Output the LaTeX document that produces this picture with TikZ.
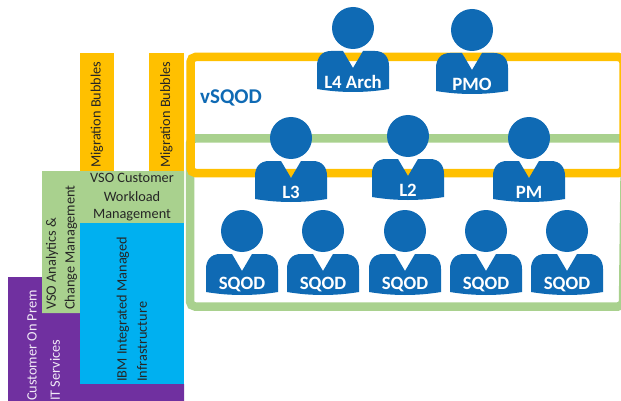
\documentclass[tikz,border=0pt]{standalone}
\usepackage{fontspec}
\setmainfont{Carlito}
\definecolor{teamblue}{HTML}{0F6AB4}
\definecolor{bubbleorange}{HTML}{FFC000}
\definecolor{vsogreen}{HTML}{A9D18E}
\definecolor{ibmblue}{HTML}{00B0F0}
\definecolor{onpremviolet}{HTML}{7030A0}
\tikzset{
  frameline/.style={line width=8.5pt,rounded corners=5pt},
  blocktext/.style={font=\fontsize{14.3}{14.3}\selectfont,text=black!85,inner sep=0pt},
  memberlabel/.style={font=\fontsize{18.8}{18.8}\selectfont\bfseries,text=white,inner sep=0pt}
}
% one team member: name, head centre x, head centre y, label
\newcommand{\teammember}[4]{
  \begin{scope}[shift={(#2,#3)}]
    \fill[teamblue] (0,0) circle (21);
    \fill[teamblue] (-10,23) -- (0,40) -- (10,23) -- (22,23) .. controls (31,23) and (36,29) .. (36,38)
      -- (36,61) .. controls (12,65) and (-12,65) .. (-36,61) -- (-36,38) .. controls (-36,29) and (-31,23) .. (-22,23) -- cycle;
    \node[memberlabel] (#1) at (0,54) {#4};
  \end{scope}
}
\begin{document}
\begin{tikzpicture}[x=1pt,y=-1pt]
  \useasboundingbox (0,0) rectangle (621,401);
  \clip (0,0) rectangle (621,401);
  \fill[white] (0,0) rectangle (621,401);
  % left hand stack
  \fill[onpremviolet] (8,277) -- (42,277) -- (42,313) -- (80,313) -- (80,384) -- (184,384) -- (184,401) -- (8,401) -- cycle;
  \fill[vsogreen] (42,171) -- (184,171) -- (184,223) -- (80,223) -- (80,313) -- (42,313) -- cycle;
  \fill[ibmblue] (80,223) rectangle (184,384);
  \fill[bubbleorange] (80,53) rectangle (114,171);
  \fill[bubbleorange] (149,53) rectangle (184,171);
  \node[blocktext,rotate=90,anchor=west] (bubblesa) at (97,168) {Migration Bubbles};
  \node[blocktext,rotate=90,anchor=west] (bubblesb) at (166.5,168) {Migration Bubbles};
  \node[blocktext] (workloada) at (132,178) {VSO Customer};
  \node[blocktext] (workloadb) at (132,196.5) {Workload};
  \node[blocktext] (workloadc) at (132,215) {Management};
  \node[blocktext,rotate=90,anchor=west] (analyticsa) at (52,310) {VSO Analytics \&};
  \node[blocktext,rotate=90,anchor=west] (analyticsb) at (71,310) {Change Management};
  \node[blocktext,rotate=90,anchor=west] (ibma) at (123,382) {IBM Integrated Managed};
  \node[blocktext,rotate=90,anchor=west] (ibmb) at (142,382) {Infrastructure};
  \node[blocktext,text=white!90!onpremviolet,rotate=90,anchor=west] (prema) at (32,401) {Customer On Prem};
  \node[blocktext,text=white!90!onpremviolet,rotate=90,anchor=west] (premb) at (55,401) {IT Services};
  % team frames
  \draw[frameline,vsogreen] (625,138.5) -- (190,138.5) -- (190,306.5) -- (623,306.5) -- cycle;
  \draw[frameline,bubbleorange] (623.5,57) -- (190.5,57) -- (190.5,173) -- (623.5,173) -- cycle;
  \node[font=\fontsize{21}{21}\selectfont\bfseries,text=teamblue,inner sep=0pt] (vsqod) at (231,98) {vSQOD};
  % team members
  \teammember{arch}{353}{28}{L4 Arch}
  \teammember{pmo}{472}{30}{PMO}
  \teammember{lthree}{291}{138}{L3}
  \teammember{ltwo}{408}{136}{L2}
  \teammember{pm}{529}{138}{PM}
  \foreach \i/\hx in {1/242,2/323,3/405,4/486,5/567}{
    \teammember{sqod\i}{\hx}{231}{SQOD}
  }
\end{tikzpicture}
\end{document}
